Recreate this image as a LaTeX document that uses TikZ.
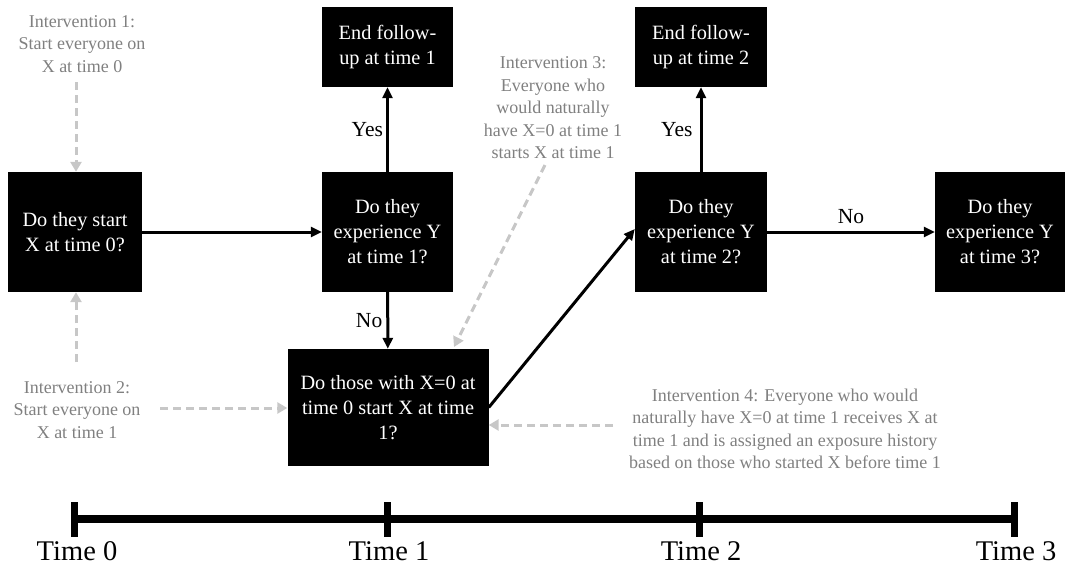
\documentclass[tikz,border=0pt]{standalone}
\usepackage{fontspec}
\newfontfamily\tnr{Liberation Serif}
\usetikzlibrary{arrows.meta,calc}
\begin{document}
\begin{tikzpicture}[x=1pt,y=-1pt,
  blackbox/.style={fill=black,text=white,inner sep=0pt,align=center,font=\tnr\fontsize{20.3}{25}\selectfont},
  graytext/.style={text=black!50,align=center,inner sep=0pt,font=\tnr\fontsize{18}{22.5}\selectfont},
  lbl/.style={inner sep=0pt,font=\tnr\fontsize{21.5}{24}\selectfont},
  tlbl/.style={inner sep=0pt,font=\tnr\fontsize{28.5}{32}\selectfont},
  flow/.style={line width=3pt,-{Triangle[length=11pt,width=10pt]}},
  interv/.style={line width=3pt,black!22,dash pattern=on 8pt off 5pt,-{Triangle[length=10pt,width=11pt]}},
]
\useasboundingbox (0,0) rectangle (1065,571);
% boxes
\node[blackbox,minimum width=134pt,minimum height=120pt] (A) at (75,232) {Do they start\\X at time 0?};
\node[blackbox,minimum width=131pt,minimum height=120pt] (B) at (387.5,232) {Do they\\experience Y\\at time 1?};
\node[blackbox,minimum width=131pt,minimum height=80pt] (C) at (387.5,47) {End follow-\\up at time 1};
\node[blackbox,minimum width=201pt,minimum height=117pt] (D) at (388,407.5) {Do those with X=0 at\\time 0 start X at time\\1?};
\node[blackbox,minimum width=132pt,minimum height=80pt] (E) at (701,47) {End follow-\\up at time 2};
\node[blackbox,minimum width=132pt,minimum height=120pt] (F) at (701,232) {Do they\\experience Y\\at time 2?};
\node[blackbox,minimum width=130pt,minimum height=120pt] (G) at (1000,232) {Do they\\experience Y\\at time 3?};
% flow arrows
\draw[flow] (A) -- (B);
\draw[flow] (B) -- (C) node[lbl,midway,left=3pt] (yes1) {Yes};
\draw[flow] (B) -- (D) node[lbl,midway,left=4pt] (no1) {No};
\draw[flow] (D.east) -- ([yshift=3pt]F.west);
\draw[flow] (F) -- (E) node[lbl,midway,left=7pt] (yes2) {Yes};
\draw[flow] (F) -- (G) node[lbl,midway,above=7pt] (no2) {No};
% interventions
\node[graytext] (i1) at (82,44) {Intervention 1:\\Start everyone on\\X at time 0};
\node[graytext] (i2) at (77,410) {Intervention 2:\\Start everyone on\\X at time 1};
\node[graytext] (i3) at (553,108) {Intervention 3:\\Everyone who\\would naturally\\have X=0 at time 1\\starts X at time 1};
\node[graytext] (i4) at (785,429) {Intervention 4: Everyone who would\\naturally have X=0 at time 1 receives X at\\time 1 and is assigned an exposure history\\based on those who started X before time 1};
\coordinate (i1s) at (76,82);
\coordinate (i2n) at (76,362);
\coordinate (i2e) at (160,408);
\coordinate (i3s) at (545,165);
\coordinate (d3) at (454,347);
\coordinate (i4w) at (613,425);
\draw[interv] (i1s) -- (i1s |- A.north);
\draw[interv] (i2n) -- (i2n |- A.south);
\draw[interv] (i2e) -- (i2e -| D.west);
\draw[interv] (i3s) -- (d3);
\draw[interv] (i4w) -- (i4w -| D.east);
% timeline
\coordinate (t0) at (74,519);
\coordinate (t1) at (387,519);
\coordinate (t2) at (699,519);
\coordinate (t3) at (1014,519);
\draw[line width=8pt] (t0) -- (t3);
\foreach \t in {t0,t1,t2,t3}{
  \draw[line width=7pt] ($(\t)+(0,-17)$) -- ($(\t)+(0,18)$);
}
\node[tlbl] (l0) at (77,551) {Time 0};
\node[tlbl] (l1) at (389,551) {Time 1};
\node[tlbl] (l2) at (701,551) {Time 2};
\node[tlbl] (l3) at (1016,551) {Time 3};
\end{tikzpicture}
\end{document}
